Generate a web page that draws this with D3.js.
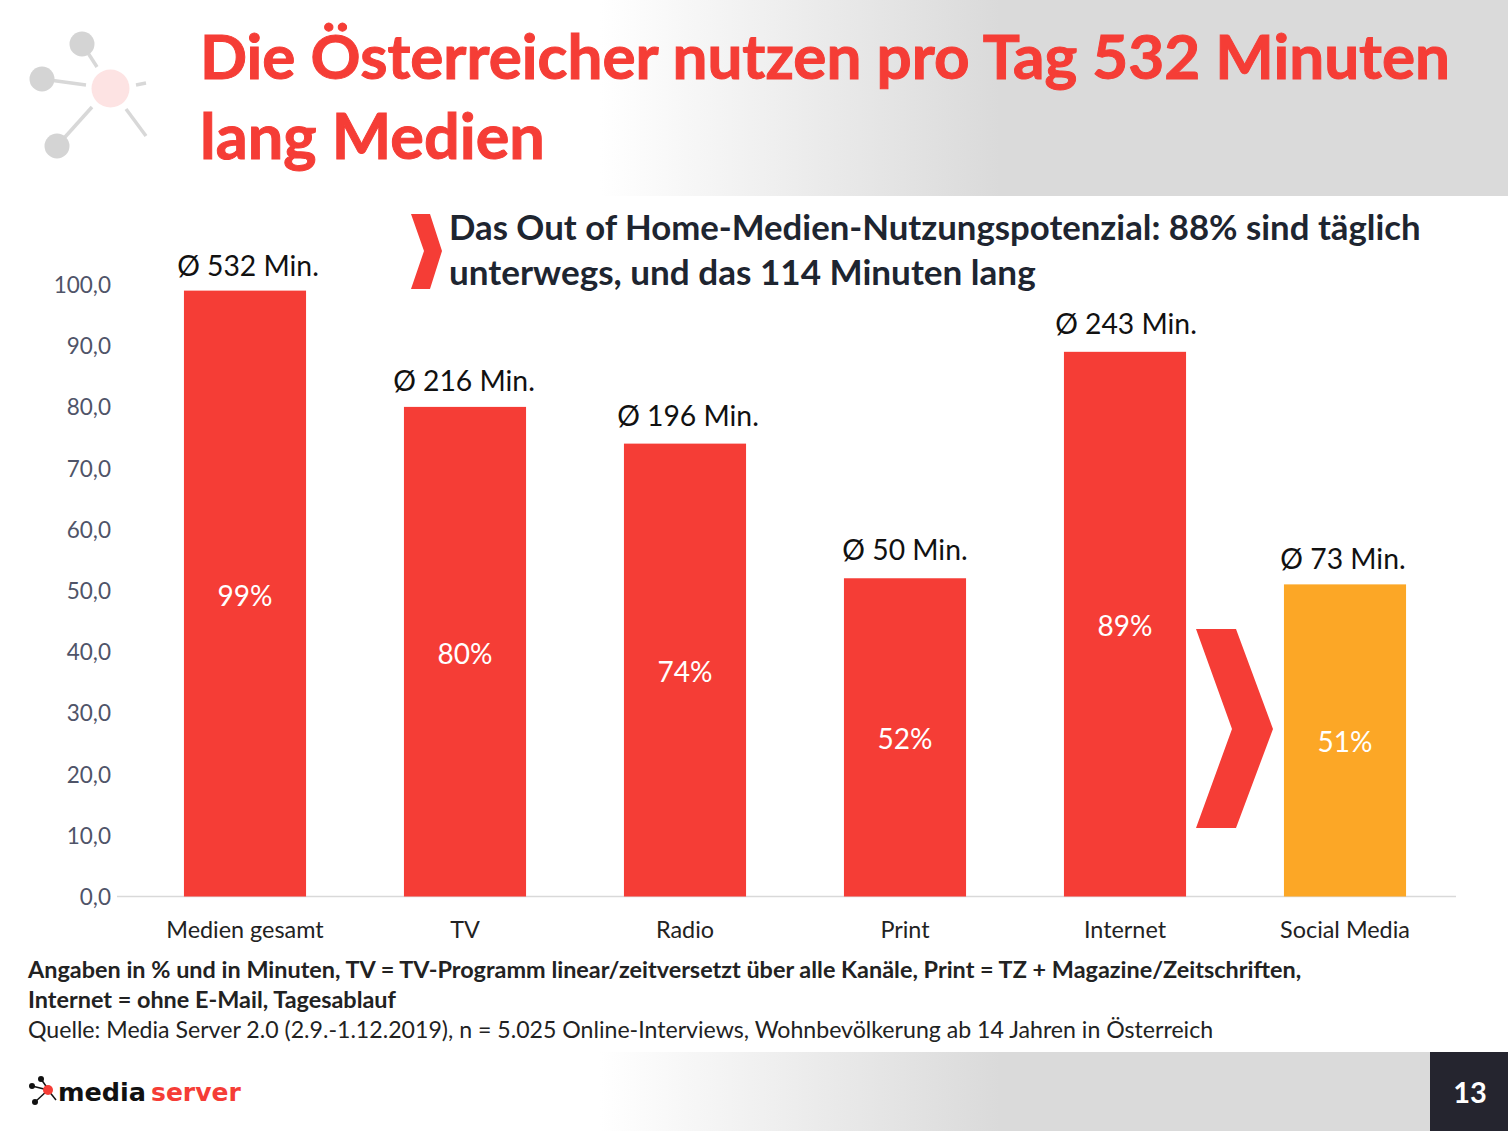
<!DOCTYPE html>
<html>
<head>
<meta charset="utf-8">
<script src="https://cdn.jsdelivr.net/npm/d3@7"></script>
<style>
  body { margin: 0; background: #fff; }
  svg { display: block; }
  text { font-family: Lato, "Open Sans", sans-serif; }
</style>
</head>
<body>
<div id="chart"></div>
<script>
var categories = ["Medien gesamt", "TV", "Radio", "Print", "Internet", "Social Media"];
var shares = [99, 80, 74, 52, 89, 51];
var minutes = ["Ø 532 Min.", "Ø 216 Min.", "Ø 196 Min.", "Ø 50 Min.", "Ø 243 Min.", "Ø 73 Min."];
var barColors = ["#f53d36", "#f53d36", "#f53d36", "#f53d36", "#f53d36", "#fca726"];
var yTicks = [0, 10, 20, 30, 40, 50, 60, 70, 80, 90, 100];

// the minute labels were placed by hand on the slide, so they sit a bit unevenly
var minNudgeX = [3, -1, 3, 0, 1, -2];
var minNudgeY = [-15, -16, -18, -18, -18, -15];

var svgWidth = 1508;
var svgHeight = 1131;
var red = "#f53d36";

var svg = d3.select("#chart")
  .append("svg")
  .attr("width", svgWidth)
  .attr("height", svgHeight);

// header and footer gradients
var defs = svg.append("defs");
var grad = defs.append("linearGradient").attr("id", "band")
  .attr("gradientUnits", "userSpaceOnUse")
  .attr("x1", 600).attr("x2", 1000).attr("y1", 0).attr("y2", 0);
grad.append("stop").attr("offset", "0%").attr("stop-color", "#ffffff");
grad.append("stop").attr("offset", "100%").attr("stop-color", "#dadada");

svg.append("rect").attr("x", 600).attr("y", 0).attr("width", 908).attr("height", 196).attr("fill", "url(#band)");
svg.append("rect").attr("x", 600).attr("y", 1052).attr("width", 908).attr("height", 79).attr("fill", "url(#band)");
svg.append("rect").attr("x", 1430).attr("y", 1052).attr("width", 78).attr("height", 79).attr("fill", "#25252f");
svg.append("text").attr("x", 1470).attr("y", 1103).attr("text-anchor", "middle")
  .attr("font-size", 29).attr("font-weight", 700).attr("fill", "#fff").text("13");

// title
var titleLines = [["Die Österreicher nutzen pro Tag 532 Minuten", 79, 62], ["lang Medien", 159, 63]];
svg.selectAll(".title").data(titleLines).enter().append("text")
  .attr("class", "title")
  .attr("x", 200).attr("y", d => d[1])
  .attr("font-size", d => d[2]).attr("font-weight", 700).attr("fill", red)
  .attr("stroke", red).attr("stroke-width", 1)
  .text(d => d[0]);

// header logo, faded
var logo = svg.append("g");
var spokes = [[88, 53, 97, 67], [42, 79, 86, 85], [57, 146, 92, 107], [126, 109, 146, 136], [136, 85, 146, 83]];
logo.selectAll("line").data(spokes).enter().append("line")
  .attr("x1", d => d[0]).attr("y1", d => d[1]).attr("x2", d => d[2]).attr("y2", d => d[3])
  .attr("stroke", "#d8d8d8").attr("stroke-width", 3.5);
logo.selectAll(".node").data([[82, 44], [42, 79], [57, 146]]).enter().append("circle")
  .attr("cx", d => d[0]).attr("cy", d => d[1]).attr("r", 12.5).attr("fill", "#d4d4d4");
logo.append("circle").attr("cx", 110.5).attr("cy", 88.5).attr("r", 19).attr("fill", "#fde3e3");

// scales
var x = d3.scaleBand().domain(categories).range([135, 1455]).paddingInner(0.445).paddingOuter(0.2225);
var y = d3.scaleLinear().domain([0, 100]).range([896.5, 284.5]);

// y axis
var leftAxis = d3.axisLeft(y).tickValues(yTicks).tickSize(0).tickPadding(6)
  .tickFormat(d => d3.format(".1f")(d).replace(".", ","));
var yAxis = svg.append("g").attr("transform", "translate(117,0.7)").call(leftAxis);
yAxis.select(".domain").remove();
yAxis.selectAll("text").attr("font-size", 22.5).attr("fill", "#4f5468").style("font-family", "Lato");

// baseline
svg.append("line").attr("x1", 117).attr("x2", 1456).attr("y1", y(0)).attr("y2", y(0))
  .attr("stroke", "#d9d9d9").attr("stroke-width", 1.5);

// bars
svg.selectAll(".bar").data(categories).enter().append("rect")
  .attr("class", "bar")
  .attr("x", d => x(d))
  .attr("y", (d, i) => y(shares[i]))
  .attr("width", x.bandwidth())
  .attr("height", (d, i) => y(0) - y(shares[i]))
  .attr("fill", (d, i) => barColors[i]);

// value labels
svg.selectAll(".share").data(categories).enter().append("text")
  .attr("class", "share")
  .attr("x", d => x(d) + x.bandwidth() / 2)
  .attr("y", (d, i) => (y(shares[i]) + y(0)) / 2 + 12)
  .attr("text-anchor", "middle").attr("font-size", 28).attr("fill", "#fff")
  .text((d, i) => shares[i] + "%");

svg.selectAll(".mins").data(categories).enter().append("text")
  .attr("class", "mins")
  .attr("x", (d, i) => x(d) + x.bandwidth() / 2 + minNudgeX[i])
  .attr("y", (d, i) => y(shares[i]) + minNudgeY[i])
  .attr("text-anchor", "middle").attr("font-size", 28.3).attr("fill", "#111")
  .text((d, i) => minutes[i]);

svg.selectAll(".cat").data(categories).enter().append("text")
  .attr("class", "cat")
  .attr("x", d => x(d) + x.bandwidth() / 2)
  .attr("y", 938)
  .attr("text-anchor", "middle").attr("font-size", 23.4).attr("fill", "#222")
  .text(d => d);

// chevrons
var chevron = d3.line();
svg.append("path")
  .attr("d", chevron([[411, 214], [430, 214], [442, 251], [430, 289], [411, 289], [424, 251]]) + "Z")
  .attr("fill", red);
svg.append("path")
  .attr("d", chevron([[1196, 629], [1236, 629], [1273, 729], [1236, 828], [1196, 828], [1232, 729]]) + "Z")
  .attr("fill", red);

// callout
svg.selectAll(".callout")
  .data([["Das Out of Home-Medien-Nutzungspotenzial: 88% sind täglich", 240, 34.75], ["unterwegs, und das 114 Minuten lang", 285, 35.1]])
  .enter().append("text").attr("class", "callout")
  .attr("x", 449).attr("y", d => d[1])
  .attr("font-size", d => d[2]).attr("font-weight", 700).attr("fill", "#1e2530")
  .text(d => d[0]);

// footnotes
var notes = [
  ["Angaben in % und in Minuten, TV = TV-Programm linear/zeitversetzt über alle Kanäle, Print = TZ + Magazine/Zeitschriften,", 977.5, 700, 23.43],
  ["Internet = ohne E-Mail, Tagesablauf", 1007.5, 700, 23.43],
  ["Quelle: Media Server 2.0 (2.9.-1.12.2019), n = 5.025 Online-Interviews, Wohnbevölkerung ab 14 Jahren in Österreich", 1037.5, 400, 23.13]
];
svg.selectAll(".note").data(notes).enter().append("text")
  .attr("class", "note")
  .attr("x", 28).attr("y", d => d[1])
  .attr("font-size", d => d[3]).attr("font-weight", d => d[2]).attr("fill", "#222")
  .text(d => d[0]);

// footer logo
var foot = svg.append("g");
foot.selectAll("line").data([[41, 1079, 48, 1089], [32, 1086, 48, 1090], [35, 1102, 48, 1090], [48, 1090, 56, 1100]]).enter().append("line")
  .attr("x1", d => d[0]).attr("y1", d => d[1]).attr("x2", d => d[2]).attr("y2", d => d[3])
  .attr("stroke", "#111").attr("stroke-width", 1.5);
foot.selectAll("circle").data([[41, 1079], [32, 1086], [35, 1102]]).enter().append("circle")
  .attr("cx", d => d[0]).attr("cy", d => d[1]).attr("r", 3).attr("fill", "#111");
foot.append("circle").attr("cx", 48).attr("cy", 1090).attr("r", 5).attr("fill", red);
foot.append("text").attr("x", 58).attr("y", 1101).attr("font-size", 25.5).attr("font-weight", 700)
  .style("font-family", "DejaVu Sans").attr("fill", "#111").text("media");
foot.append("text").attr("x", 151).attr("y", 1101).attr("font-size", 25).attr("font-weight", 700)
  .style("font-family", "DejaVu Sans").attr("fill", red).text("server");
</script>
</body>
</html>
